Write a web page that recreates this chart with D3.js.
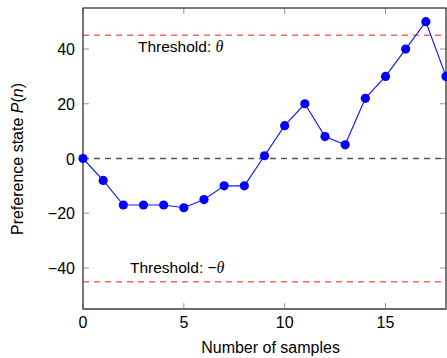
<!DOCTYPE html>
<html>
<head>
<meta charset="utf-8">
<script src="https://cdn.jsdelivr.net/npm/d3@7"></script>
<style>
body { margin: 0; background: #fff; }
svg { display: block; font-family: "Liberation Sans", Arial, sans-serif; }
</style>
</head>
<body>
<script>
// samples and preference state
var samples = [0,1,2,3,4,5,6,7,8,9,10,11,12,13,14,15,16,17,18];
var prefState = [0,-8,-17,-17,-17,-18,-15,-10,-10,1,12,20,8,5,22,30,40,50,30];
var xTicks = [0,5,10,15];
var yTicks = [-40,-20,0,20,40];
var threshold = 45;

var W = 447, H = 358;
var m = {left: 83, right: 446, top: 8, bottom: 309};

var svg = d3.select("body").append("svg")
    .attr("width", W)
    .attr("height", H);

var x = d3.scaleLinear().domain([0, 18]).range([m.left, m.right]);
var y = d3.scaleLinear().domain([-55, 55]).range([m.bottom, m.top]);

// ticks (inward, gray) on all four sides
var tk = svg.append("g").attr("stroke", "#999").attr("stroke-width", 1);
yTicks.forEach(function(v){
    tk.append("line").attr("x1", m.left).attr("x2", m.left + 6)
	.attr("y1", y(v)).attr("y2", y(v));
    tk.append("line").attr("x1", m.right).attr("x2", m.right - 6)
	.attr("y1", y(v)).attr("y2", y(v));
});
xTicks.forEach(function(v){
    tk.append("line").attr("y1", m.bottom).attr("y2", m.bottom - 6)
	.attr("x1", x(v)).attr("x2", x(v));
    tk.append("line").attr("y1", m.top).attr("y2", m.top + 6)
	.attr("x1", x(v)).attr("x2", x(v));
});

// tick labels
svg.append("g").selectAll("text").data(yTicks).enter()
    .append("text")
    .attr("x", 75)
    .attr("y", function(d){ return y(d) + 6; })
    .attr("text-anchor", "end")
    .style("font-size", "16px")
    .text(function(d){ return d < 0 ? "\u2212" + Math.abs(d) : d; });

svg.append("g").selectAll("text").data(xTicks).enter()
    .append("text")
    .attr("x", function(d){ return x(d); })
    .attr("y", 328)
    .attr("text-anchor", "middle")
    .style("font-size", "16px")
    .text(function(d){ return d; });

// threshold lines
[threshold, -threshold].forEach(function(v){
    svg.append("line")
	.attr("x1", m.left).attr("x2", m.right)
	.attr("y1", y(v)).attr("y2", y(v))
	.attr("stroke", "#ff6464")
	.attr("stroke-width", 1.5)
	.attr("stroke-dasharray", "6,5");
});

// zero line
svg.append("line")
    .attr("x1", m.left).attr("x2", m.right)
    .attr("y1", y(0)).attr("y2", y(0))
    .attr("stroke", "#555")
    .attr("stroke-width", 1.4)
    .attr("stroke-dasharray", "6,5");

// threshold labels
function thrLabel(xp, yp, sign){
    var t = svg.append("text")
	.attr("x", xp).attr("y", yp)
	.style("font-size", "15.5px");
    t.append("tspan").text("Threshold: " + sign);
    t.append("tspan")
	.style("font-family", "'Liberation Serif', 'DejaVu Serif', serif")
	.style("font-style", "italic")
	.style("font-size", "16px")
	.text("\u03b8");
}
thrLabel(138, 52, "");
thrLabel(130, 273, "\u2212");

// frame
svg.append("rect")
    .attr("x", m.left).attr("y", m.top)
    .attr("width", m.right - m.left)
    .attr("height", m.bottom - m.top)
    .attr("fill", "none")
    .attr("stroke", "#222")
    .attr("stroke-width", 1.2);
svg.append("line")
    .attr("x1", m.left).attr("x2", m.right)
    .attr("y1", m.bottom).attr("y2", m.bottom)
    .attr("stroke", "#666").attr("stroke-width", 1.5);

// series
var pts = samples.map(function(s, i){ return [s, prefState[i]]; });
svg.append("path")
    .datum(pts)
    .attr("fill", "none")
    .attr("stroke", "#1a1aff")
    .attr("stroke-width", 1.2)
    .attr("d", d3.line()
	  .x(function(d){ return x(d[0]); })
	  .y(function(d){ return y(d[1]); }));

svg.append("g").selectAll("circle").data(pts).enter()
    .append("circle")
    .attr("cx", function(d){ return x(d[0]); })
    .attr("cy", function(d){ return y(d[1]); })
    .attr("r", 4.6)
    .attr("fill", "#0000ff");

// axis titles
svg.append("text")
    .attr("x", x(9.3)).attr("y", 353)
    .attr("text-anchor", "middle")
    .style("font-size", "16px")
    .text("Number of samples");

var yl = svg.append("text")
    .attr("transform", "translate(23," + 159 + ") rotate(-90)")
    .attr("text-anchor", "middle")
    .style("font-size", "16px");
yl.append("tspan").text("Preference state ");
yl.append("tspan").style("font-style", "italic").text("P");
yl.append("tspan").text("(");
yl.append("tspan").style("font-style", "italic").text("n");
yl.append("tspan").text(")");
</script>
</body>
</html>
